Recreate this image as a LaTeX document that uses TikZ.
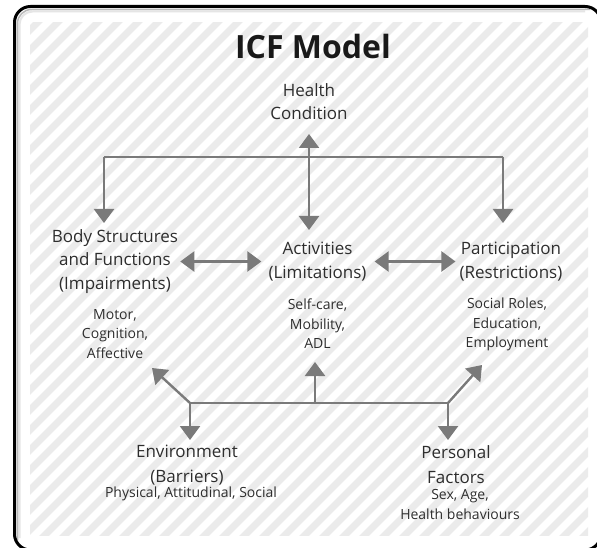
\documentclass[tikz,border=0pt]{standalone}
\usepackage{fontspec}
\setmainfont{Open Sans}
\usepackage{tikz}
\usetikzlibrary{positioning,arrows.meta,calc}
\definecolor{stripegray}{HTML}{EBEBEB}
\definecolor{linkgray}{HTML}{7A7A7A}
\definecolor{textgray}{HTML}{2E2E2E}

\begin{document}
\begin{tikzpicture}[x=1pt,y=-1pt,
    lbl/.style={align=center,text=textgray,font=\fontsize{17}{23.5}\selectfont,inner sep=3pt},
    det/.style={align=center,text=textgray,font=\fontsize{14}{19.5}\selectfont,inner sep=2pt},
    link/.style={draw=linkgray,line width=2.4pt},
    tip/.style={link,-{Triangle[width=20pt,length=14pt]}},
    both/.style={link,{Triangle[width=20pt,length=14pt]}-{Triangle[width=20pt,length=14pt]}}]
    \useasboundingbox (0,0) rectangle (597,548);
    \fill[white] (0,0) rectangle (597,548);
    \begin{scope}
        \clip (30,23) rectangle (588,535);
        \foreach \x in {-560,-540,...,620}
            \draw[stripegray,line width=7pt] (\x,560) -- ++(580,-580);
    \end{scope}
    \begin{scope}
        \clip (0,0) rectangle (597,548);
        \draw[gray!20,line width=2pt,rounded corners=13pt] (19.5,538) |- (585,11.5);
        \draw[gray!55,line width=1.5pt,rounded corners=14pt] (17.5,540) |- (590,9.5);
        \draw[black,line width=3pt,rounded corners=16pt] (14.5,6.5) rectangle (601,550);
    \end{scope}

    \node[font=\fontsize{32}{38}\selectfont\bfseries,text=black!90] (title) at (313,47) {ICF Model};
    \node[lbl] (health) at (309,101.5) {Health\\Condition};
    \node[lbl] (body) at (115,261.5) {Body Structures\\and Functions\\(Impairments)};
    \node[det] (bodyd) at (115,334) {Motor,\\Cognition,\\Affective};
    \node[lbl] (act) at (317.5,261.5) {Activities\\(Limitations)};
    \node[det] (actd) at (317.5,324) {Self-care,\\Mobility,\\ADL};
    \node[lbl] (part) at (511,261.5) {Participation\\(Restrictions)};
    \node[det] (partd) at (507,324.5) {Social Roles,\\Education,\\Employment};
    \node[lbl,font=\fontsize{17}{25}\selectfont] (env) at (187,465) {Environment\\(Barriers)};
    \node[det] (envd) at (191,494) {Physical, Attitudinal, Social};
    \node[lbl,font=\fontsize{17}{25}\selectfont] (pers) at (456,465) {Personal\\Factors};
    \node[det] (persd) at (460,504.5) {Sex, Age,\\Health behaviours};

    \coordinate (hl) at (104,157);
    \coordinate (hr) at (503,157);
    \coordinate (htop) at (309,134);
    \coordinate (hbot) at (309,230);
    \coordinate (bodytop) at (104,223);
    \coordinate (parttop) at (503,223);
    \draw[link] (hl) -- (hr);
    \draw[tip] (hl) -- (bodytop);
    \draw[tip] (hr) -- (parttop);
    \draw[both] (htop) -- (hbot);

    \draw[both,shorten <=-1pt,shorten >=4pt] (body.east) -- (act.west);
    \draw[both,shorten <=5pt,shorten >=1pt] (act.east) -- (part.west);

    \coordinate (jl) at (190,403);
    \coordinate (jm) at (315,403);
    \coordinate (jr) at (448,403);
    \coordinate (bodybot) at (152,368);
    \coordinate (actbot) at (315,362);
    \coordinate (partbot) at (482,365);
    \coordinate (envtop) at (190,440);
    \coordinate (perstop) at (448,440);
    \draw[link] (jl) -- (jr);
    \draw[tip] (jl) -- (bodybot);
    \draw[tip] (jm) -- (actbot);
    \draw[tip] (jr) -- (partbot);
    \draw[tip] (jl) -- (envtop);
    \draw[tip] (jr) -- (perstop);
\end{tikzpicture}
\end{document}
